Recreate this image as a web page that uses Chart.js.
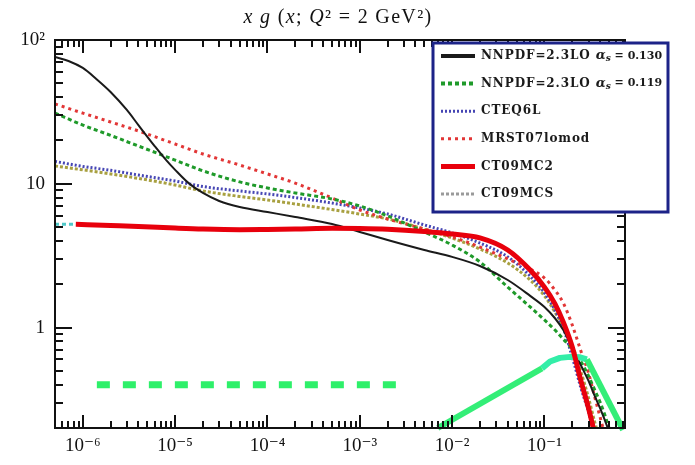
<!DOCTYPE html>
<html>
<head>
<meta charset="utf-8">
<script src="https://cdn.jsdelivr.net/npm/chart.js@4.4.1/dist/chart.umd.min.js"></script>
<style>
html, body { margin: 0; padding: 0; background: #fff; }
</style>
</head>
<body>
<canvas id="graph" width="695" height="465"></canvas>
<script>
// x grid shared by most PDF curves
var xGrid = [5e-7, 1e-6, 2e-6, 4e-6, 1e-5, 2e-5, 5e-5, 1e-4, 2e-4, 5e-4, 1e-3, 2e-3, 5e-3, 1e-2, 2e-2, 4e-2, 7e-2, 0.1, 0.13, 0.16, 0.2, 0.25, 0.3, 0.35, 0.4, 0.45, 0.5, 0.6];

var nnpdf119 = [31.0, 25.6, 21.7, 18.3, 14.6, 12.3, 10.3, 9.35, 8.63, 7.84, 7.0, 5.97, 4.62, 3.75, 2.86, 1.91, 1.39, 1.13, 0.96, 0.83, 0.71, 0.575, 0.46, 0.368, 0.303, 0.247, 0.2, 0.14];
var cteq6l = [14.3, 13.2, 12.4, 11.5, 10.45, 9.57, 8.91, 8.49, 8.02, 7.34, 6.78, 6.16, 5.17, 4.55, 3.87, 3.10, 2.28, 1.74, 1.32, 0.99, 0.624, 0.374, 0.259, 0.179, 0.136, 0.102, 0.08, 0.054];
var mrst07 = [35.9, 31.0, 26.9, 23.3, 18.9, 16.1, 13.5, 11.7, 10.1, 7.96, 6.57, 5.69, 4.84, 4.27, 3.63, 3.0, 2.55, 2.21, 1.82, 1.48, 1.04, 0.676, 0.483, 0.329, 0.239, 0.179, 0.14, 0.1];
var ct09mcs = [13.3, 12.5, 11.7, 10.9, 9.8, 8.91, 8.16, 7.71, 7.23, 6.62, 6.16, 5.69, 4.84, 4.19, 3.52, 2.81, 2.14, 1.66, 1.28, 1.01, 0.72, 0.483, 0.324, 0.22, 0.165, 0.13, 0.1, 0.08];

// NNPDF alpha_s = 0.130 has a steep shoulder at small x, so it gets a denser grid
var nnpdf130X = [5e-7, 7e-7, 1e-6, 1.4e-6, 2e-6, 3e-6, 4e-6, 6e-6, 8e-6, 1e-5, 1.4e-5, 2e-5, 3e-5, 5e-5, 1e-4, 2e-4, 5e-4, 1e-3, 2e-3, 5e-3, 1e-2, 2e-2, 4e-2, 7e-2, 0.1, 0.13, 0.16, 0.2, 0.25, 0.3, 0.35, 0.4, 0.45, 0.5, 0.6];
var nnpdf130 = [76.2, 71.5, 63.9, 53.6, 43.5, 32.6, 25.6, 18.3, 14.6, 12.5, 10.1, 8.63, 7.59, 6.89, 6.36, 5.87, 5.25, 4.62, 4.06, 3.46, 3.10, 2.68, 2.14, 1.66, 1.39, 1.16, 0.96, 0.72, 0.54, 0.425, 0.334, 0.275, 0.227, 0.19, 0.14];

// CT09MC2 starts a little right of the frame
var ct09X = [8.4e-7, 2e-6, 4e-6, 1e-5, 2e-5, 5e-5, 1e-4, 2e-4, 5e-4, 1e-3, 2e-3, 5e-3, 1e-2, 2e-2, 4e-2, 7e-2, 0.1, 0.13, 0.16, 0.2, 0.25, 0.3, 0.35, 0.4];
var ct09mc2 = [5.23, 5.13, 5.05, 4.92, 4.84, 4.79, 4.81, 4.84, 4.9, 4.88, 4.82, 4.65, 4.47, 4.2, 3.46, 2.51, 1.91, 1.46, 1.09, 0.733, 0.418, 0.275, 0.182, 0.13];
var cyanX = [5e-7, 8.4e-7];
var cyanY = [5.23, 5.23];

// thick green marks
var markX = [1.42e-6, 2.52e-3];
var markY = [0.4, 0.4];
var bandX = [0.007, 0.094, 0.115, 0.147, 0.19, 0.243, 0.288, 0.71];
var bandY = [0.2, 0.52, 0.58, 0.615, 0.625, 0.62, 0.6, 0.194];

// tick labels
var xMajor = [1e-6, 1e-5, 1e-4, 1e-3, 1e-2, 1e-1];
var xMajorLabels = ['10\u207B\u2076', '10\u207B\u2075', '10\u207B\u2074', '10\u207B\u00B3', '10\u207B\u00B2', '10\u207B\u00B9'];
var yMajor = [1, 10, 100];
var yMajorLabels = ['1', '10', '10\u00B2'];

var seriesLabels = ['NNPDF=2.3LO \u03B1s = 0.130', 'NNPDF=2.3LO \u03B1s = 0.119', 'CTEQ6L', 'MRST07lomod', 'CT09MC2', 'CT09MCS'];

function pts(xs, ys) {
    return xs.map(function(x, i) { return { x: x, y: ys[i] }; });
}

function logTicks(min, max, majors) {
    var out = [];
    for (var e = -7; e <= 2; e++) {
        for (var m = 1; m <= 9; m++) {
            var v = m * Math.pow(10, e);
            if (m === 1) {
                var k = majors.indexOf(Math.pow(10, e));
                if (k >= 0) v = majors[k];
            }
            if (v >= min * 0.999 && v <= max * 1.001) out.push({ value: v, major: m === 1 });
        }
    }
    return out;
}

var serif = "'Liberation Serif', 'DejaVu Serif', serif";

var frameTicks = {
    id: 'frameTicks',
    afterDatasetsDraw: function(chart) {
        var ctx = chart.ctx, a = chart.chartArea;
        var xs = chart.scales.x, ys = chart.scales.y;
        ctx.save();
        ctx.strokeStyle = '#111';
        ctx.lineWidth = 2;
        ctx.setLineDash([]);
        ctx.beginPath();
        xs.ticks.forEach(function(t) {
            var p = Math.round(xs.getPixelForValue(t.value));
            var len = t.major ? 13 : 7;
            ctx.moveTo(p, a.bottom); ctx.lineTo(p, a.bottom - len);
            ctx.moveTo(p, a.top); ctx.lineTo(p, a.top + len);
        });
        ys.ticks.forEach(function(t) {
            var p = Math.round(ys.getPixelForValue(t.value));
            var len = t.major ? 17 : 8;
            ctx.moveTo(a.left, p); ctx.lineTo(a.left + len, p);
            ctx.moveTo(a.right, p); ctx.lineTo(a.right - len, p);
        });
        ctx.stroke();
        ctx.strokeRect(a.left, a.top, a.right - a.left, a.bottom - a.top);
        ctx.restore();
    }
};

function legendText(ctx, label, x, y) {
    var parts = label.split('\u03B1s');
    ctx.letterSpacing = '0.9px';
    ctx.font = "bold 12px 'DejaVu Serif'";
    ctx.fillText(parts[0], x, y);
    if (parts.length < 2) return;
    x += ctx.measureText(parts[0]).width;
    ctx.letterSpacing = '0px';
    ctx.font = "italic bold 13px 'DejaVu Serif'";
    ctx.fillText('\u03B1', x, y);
    x += ctx.measureText('\u03B1').width;
    ctx.font = "italic bold 9px 'DejaVu Serif'";
    ctx.fillText('s', x, y + 3);
    x += ctx.measureText('s').width;
    ctx.font = "bold 11px 'DejaVu Serif'";
    ctx.fillText(parts[1], x, y);
}

var boxLegend = {
    id: 'boxLegend',
    afterDraw: function(chart) {
        var ctx = chart.ctx;
        ctx.save();
        ctx.fillStyle = '#fff';
        ctx.fillRect(433, 43, 235, 169);
        ctx.strokeStyle = '#1c2388';
        ctx.lineWidth = 3;
        ctx.strokeRect(433, 43, 235, 169);
        chart.data.datasets.forEach(function(d) {
            if (d.legendRow === undefined) return;
            var y = 56 + d.legendRow * 27.6;
            ctx.setLineDash(d.borderDash || []);
            ctx.strokeStyle = d.legendColor || d.borderColor;
            ctx.lineWidth = d.legendWidth;
            ctx.beginPath();
            ctx.moveTo(441, y);
            ctx.lineTo(475, y);
            ctx.stroke();
            ctx.setLineDash([]);
            ctx.fillStyle = '#1a1a1a';
            ctx.textBaseline = 'middle';
            legendText(ctx, d.label, 481, y);
        });
        ctx.letterSpacing = '0px';

        // title, mixed italic / upright runs
        var runs = [['x', 1], [' ', 0], ['g', 1], [' (', 0], ['x', 1], ['; ', 0], ['Q', 1], ['\u00B2 = 2 GeV\u00B2)', 0]];
        var w = 0, n = 0;
        runs.forEach(function(r) {
            ctx.font = (r[1] ? 'italic ' : '') + '20px ' + serif;
            w += ctx.measureText(r[0]).width;
            n += r[0].length;
        });
        var sp = Math.max(0, (189 - w) / n);
        var x = 338 - 189 / 2;
        ctx.fillStyle = '#111';
        ctx.textBaseline = 'alphabetic';
        runs.forEach(function(r) {
            ctx.font = (r[1] ? 'italic ' : '') + '20px ' + serif;
            for (var i = 0; i < r[0].length; i++) {
                var c = r[0][i];
                ctx.fillText(c, x, 23);
                x += ctx.measureText(c).width + sp;
            }
        });
        ctx.restore();
    }
};

var curve = { pointRadius: 0, fill: false, cubicInterpolationMode: 'monotone', clip: 0, spanGaps: false };

var datasets = [
    Object.assign({}, curve, { label: seriesLabels[0], data: pts(nnpdf130X, nnpdf130), borderColor: '#1a1a1a', borderWidth: 2, legendRow: 0, legendWidth: 4, order: 3 }),
    Object.assign({}, curve, { label: seriesLabels[1], data: pts(xGrid, nnpdf119), borderColor: '#1f9a2a', borderWidth: 3, borderDash: [4, 3], legendRow: 1, legendWidth: 4, order: 4 }),
    Object.assign({}, curve, { label: seriesLabels[2], data: pts(xGrid, cteq6l), borderColor: '#4646b4', borderWidth: 3, borderDash: [2, 2], legendRow: 2, legendWidth: 3, order: 6 }),
    Object.assign({}, curve, { label: seriesLabels[3], data: pts(xGrid, mrst07), borderColor: '#e23636', borderWidth: 3, borderDash: [3, 4], legendRow: 3, legendWidth: 3, order: 5 }),
    Object.assign({}, curve, { label: seriesLabels[4], data: pts(ct09X, ct09mc2), borderColor: '#e8000c', borderWidth: 5, legendRow: 4, legendWidth: 5, order: 0 }),
    Object.assign({}, curve, { label: seriesLabels[5], data: pts(xGrid, ct09mcs), borderColor: '#a8a040', borderWidth: 3, borderDash: [3, 2], legendColor: '#9a9a9a', legendRow: 5, legendWidth: 3, order: 7 }),
    Object.assign({}, curve, { label: 'cyan', data: pts(cyanX, cyanY), borderColor: '#50c8c8', borderWidth: 3, borderDash: [4, 3], order: 8 }),
    { label: 'marks', data: pts(markX, markY), borderColor: '#2ef06a', borderWidth: 7, borderDash: [13, 13], borderCapStyle: 'butt', pointRadius: 0, tension: 0, clip: 0, order: 2 },
    { label: 'band', data: pts(bandX, bandY), borderColor: '#33ee77', borderWidth: 6, borderCapStyle: 'butt', borderJoinStyle: 'round', pointRadius: 0, tension: 0, clip: 8, order: 1,
      segment: { borderColor: function(c) { return (c.p0DataIndex >= 1 && c.p0DataIndex <= 5) ? '#33eea8' : '#33ee77'; } } }
];

var ctx = document.getElementById('graph').getContext('2d');
var chart = new Chart(ctx, {
    type: 'line',
    data: { datasets: datasets },
    options: {
        responsive: false,
        animation: false,
        devicePixelRatio: 1,
        layout: { padding: { top: 40, right: 70, left: 0, bottom: 0 } },
        plugins: { legend: { display: false }, title: { display: false }, tooltip: { enabled: false } },
        scales: {
            x: {
                type: 'logarithmic',
                min: 5e-7,
                max: 0.745,
                grid: { display: false, drawTicks: false },
                border: { display: false },
                afterBuildTicks: function(s) { s.ticks = logTicks(5e-7, 0.745, xMajor); },
                afterFit: function(s) { s.height = 37; },
                ticks: {
                    autoSkip: false, maxRotation: 0, padding: 7, color: '#111',
                    font: { family: serif, size: 19 },
                    callback: function(v) { var i = xMajor.indexOf(v); return i >= 0 ? xMajorLabels[i] : ''; }
                }
            },
            y: {
                type: 'logarithmic',
                min: 0.2,
                max: 100,
                grid: { display: false, drawTicks: false },
                border: { display: false },
                afterBuildTicks: function(s) { s.ticks = logTicks(0.2, 100, yMajor); },
                afterFit: function(s) { s.width = 55; },
                ticks: {
                    autoSkip: false, padding: 10, color: '#111',
                    font: { family: serif, size: 19 },
                    callback: function(v) { var i = yMajor.indexOf(v); return i >= 0 ? yMajorLabels[i] : ''; }
                }
            }
        }
    },
    plugins: [frameTicks, boxLegend]
});
</script>
</body>
</html>
